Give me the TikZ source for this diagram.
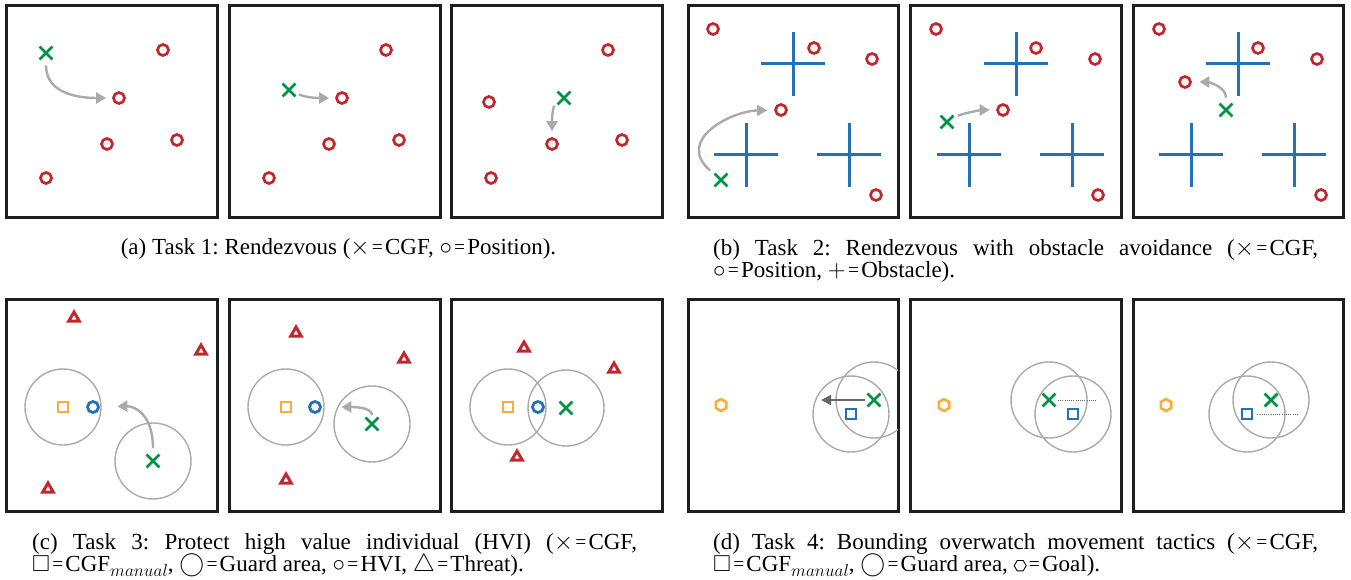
\documentclass[tikz,border=0pt]{standalone}
\usepackage{fontspec}
\setmainfont{Liberation Serif}
\usepackage{amssymb}
\usetikzlibrary{shapes.misc,shapes.geometric,arrows.meta}
\definecolor{mred}{HTML}{C1272D}
\definecolor{mgreen}{HTML}{009245}
\definecolor{mblue}{HTML}{2371B6}
\definecolor{morange}{HTML}{FAAD3A}
\definecolor{ggray}{HTML}{AAAAAA}
\definecolor{agray}{HTML}{AAAAAA}
\definecolor{dgray}{HTML}{666666}
\definecolor{framec}{HTML}{1E1E1E}
\newcommand\hexsym{\tikz[baseline={(0pt,-6pt)}]\draw[line width=0.9pt,draw=black,line join=miter] (0:6pt)--(60:6pt)--(120:6pt)--(180:6pt)--(240:6pt)--(300:6pt)--cycle;}
\newcommand\eqs{\kern2.2pt{\fontsize{19.5}{19.5}\selectfont\raisebox{0.8pt}{=}}\kern2.2pt}
\newcommand\manual{\raisebox{-4.5pt}{\fontsize{16.5}{16.5}\selectfont$manual$}}
\newcommand\obstacle[2]{\draw[obstline] ({#1-32},#2) -- ({#1+32},#2) (#1,{#2-32}) -- (#1,{#2+32});}
\tikzset{
 panelframe/.style={draw=framec, line width=3pt},
 posn/.style={circle, draw=mred, line width=2.7pt, minimum size=11pt, inner sep=0pt},
 cgf/.style={cross out, draw=mgreen, line width=2.8pt, minimum size=10pt, inner sep=0pt},
 hvi/.style={circle, draw=mblue, line width=2.8pt, minimum size=11pt, inner sep=0pt},
 manbox/.style={rectangle, draw=morange, line width=2.7pt, minimum size=10pt, inner sep=0pt},
 manboxb/.style={manbox, draw=mblue},
 threat/.style={regular polygon, regular polygon sides=3, draw=mred, line width=3pt, minimum size=12pt, inner sep=0pt},
 goalhex/.style={regular polygon, regular polygon sides=6, shape border rotate=30, draw=morange, line width=2.6pt, minimum size=12pt, inner sep=0pt},
 guardarea/.style={circle, draw=ggray, line width=1.4pt, minimum size=76pt, inner sep=0pt},
 obstline/.style={draw=mblue, line width=3pt},
 movearrow/.style={draw=agray, line width=2.4pt, -{Triangle[length=10pt,width=11pt]}},
 movearrowd/.style={draw=dgray, line width=2pt, -{Triangle[length=10pt,width=10pt]}},
 dotline/.style={draw=dgray, line width=1pt, dash pattern=on 1pt off 1.2pt},
 captxt/.style={inner sep=0pt, font=\fontsize{23}{22.5}\selectfont\frenchspacing},
}
\begin{document}
\begin{tikzpicture}[x=1pt,y=-1pt]
\useasboundingbox[fill=white] (0,0) rectangle (1351,580);
% ---------- frames ----------
\foreach \xa/\xb in {6/217,229/440,451/662,688/898,910/1121,1133/1343}{
  \draw[panelframe] (\xa,6) rectangle (\xb,217);
  \draw[panelframe] (\xa,299) rectangle (\xb,511);
}
% ---------- (a) ----------
\node[cgf] (a1x) at (46,53) {};
\node[posn] (a1p1) at (163,50) {};
\node[posn] (a1p2) at (119,98) {};
\node[posn] (a1p3) at (107,144) {};
\node[posn] (a1p4) at (177,140) {};
\node[posn] (a1p5) at (46,178) {};
\draw[movearrow, shorten <=6pt, shorten >=6pt] (a1x) .. controls +(0,40) and +(-42,0) .. (a1p2);

\node[cgf] (a2x) at (289,90) {};
\node[posn] (a2p1) at (386,50) {};
\node[posn] (a2p2) at (342,98) {};
\node[posn] (a2p3) at (329,144) {};
\node[posn] (a2p4) at (399,140) {};
\node[posn] (a2p5) at (269,178) {};
\draw[movearrow, shorten <=4pt, shorten >=6pt] (a2x) .. controls +(18,8) and +(-22,0) .. (a2p2);

\node[cgf] (a3x) at (564,98) {};
\node[posn] (a3p1) at (608,50) {};
\node[posn] (a3p2) at (489,102) {};
\node[posn] (a3p3) at (552,144) {};
\node[posn] (a3p4) at (622,140) {};
\node[posn] (a3p5) at (491,178) {};
\draw[movearrow, shorten <=4pt, shorten >=6pt] (a3x) .. controls +(-12,10) and +(0,-20) .. (a3p3);

% ---------- (b) ----------
\obstacle{793}{64}\obstacle{746}{155}\obstacle{849}{155}
\node[cgf] (b1x) at (721,180) {};
\node[posn] (b1p1) at (713,29) {};
\node[posn] (b1p2) at (814,48) {};
\node[posn] (b1p3) at (872,59) {};
\node[posn] (b1p4) at (781,110) {};
\node[posn] (b1p5) at (876,195) {};
\draw[movearrow, shorten <=6pt, shorten >=7pt] (b1x) .. controls +(-46,-40) and +(-50,1) .. (b1p4);

\obstacle{1016}{64}\obstacle{969}{155}\obstacle{1072}{155}
\node[cgf] (b2x) at (947,122) {};
\node[posn] (b2p1) at (936,29) {};
\node[posn] (b2p2) at (1036,48) {};
\node[posn] (b2p3) at (1095,59) {};
\node[posn] (b2p4) at (1003,110) {};
\node[posn] (b2p5) at (1098,195) {};
\draw[movearrow, shorten <=5pt, shorten >=6.5pt] (b2x) .. controls +(16,-9) and +(-20,0) .. (b2p4);

\obstacle{1238}{64}\obstacle{1191}{155}\obstacle{1294}{155}
\node[cgf] (b3x) at (1226,110) {};
\node[posn] (b3p1) at (1159,29) {};
\node[posn] (b3p2) at (1258,48) {};
\node[posn] (b3p3) at (1317,59) {};
\node[posn] (b3p4) at (1185,82) {};
\node[posn] (b3p5) at (1321,195) {};
\draw[movearrow, shorten <=6pt, shorten >=7.5pt] (b3x) .. controls +(0,-24) and +(22,0) .. (b3p4);

% ---------- (c) ----------
\node[guardarea] (c1g1) at (63,407) {};
\node[guardarea] (c1g2) at (153,461) {};
\node[threat] (c1t1) at (74,318) {};
\node[threat] (c1t2) at (201,351) {};
\node[threat] (c1t3) at (48,489) {};
\node[manbox] (c1m) at (63,407) {};
\node[hvi] (c1h) at (93,407) {};
\node[cgf] (c1x) at (153,461) {};
\draw[movearrow, shorten <=6.5pt, shorten >=17.5pt] (c1x) .. controls +(0,-46) and +(42,-1) .. (c1h);

\node[guardarea] (c2g1) at (286,407) {};
\node[guardarea] (c2g2) at (372,424) {};
\node[threat] (c2t1) at (296,333) {};
\node[threat] (c2t2) at (404,359) {};
\node[threat] (c2t3) at (286,480) {};
\node[manbox] (c2m) at (286,407) {};
\node[hvi] (c2h) at (315,407) {};
\node[cgf] (c2x) at (372,424) {};
\draw[movearrow, shorten <=2.5pt, shorten >=19.5pt] (c2x) .. controls +(0,-17) and +(38,0) .. (c2h);

\node[guardarea] (c3g1) at (508,407) {};
\node[guardarea] (c3g2) at (566,408) {};
\node[threat] (c3t1) at (524,348) {};
\node[threat] (c3t2) at (614,369) {};
\node[threat] (c3t3) at (517,457) {};
\node[manbox] (c3m) at (508,407) {};
\node[hvi] (c3h) at (538,407) {};
\node[cgf] (c3x) at (566,408) {};

% ---------- (d) ----------
\begin{scope}
\clip (688,299) rectangle (898,511);
\node[guardarea] (d1g1) at (851,414) {};
\node[guardarea] (d1g2) at (874,400) {};
\end{scope}
\node[goalhex] (d1goal) at (721,405) {};
\node[manboxb] (d1m) at (851,414) {};
\node[cgf] (d1x) at (874,400) {};
\coordinate (d1t) at (821,400);
\draw[movearrowd, shorten <=2.5pt] (d1x) -- (d1t);

\node[guardarea] (d2g1) at (1049,400) {};
\node[guardarea] (d2g2) at (1073,414) {};
\node[goalhex] (d2goal) at (944,405) {};
\node[manboxb] (d2m) at (1073,414) {};
\node[cgf] (d2x) at (1049,400) {};
\coordinate (d2t) at (1097,400);
\draw[dotline, shorten <=2.5pt] (d2x) -- (d2t);

\node[guardarea] (d3g1) at (1247,414) {};
\node[guardarea] (d3g2) at (1271,400) {};
\node[goalhex] (d3goal) at (1166,405) {};
\node[manboxb] (d3m) at (1247,414) {};
\node[cgf] (d3x) at (1271,400) {};
\coordinate (d3t) at (1297,414);
\draw[dotline, shorten <=4pt] (d3m) -- (d3t);

% ---------- captions ----------
\node[captxt, anchor=base] (capa) at (338.5,254) {(a) Task 1: Rendezvous ($\times$\eqs CGF, $\circ$\eqs Position).};
\node[captxt, anchor=north west, text width=605pt, align=justify] (capb) at (713,239)
 {(b) Task 2: Rendezvous with obstacle avoidance ($\times$\eqs CGF,\linebreak $\circ$\eqs Position, $+$\eqs Obstacle).};
\node[captxt, anchor=north west, text width=605pt, align=justify] (capc) at (32,533)
 {(c) Task 3: Protect high value individual (HVI) ($\times$\eqs CGF,\linebreak $\square$\eqs CGF\manual, $\bigcirc$\eqs Guard area, $\circ$\eqs HVI, $\triangle$\eqs Threat).};
\node[captxt, anchor=north west, text width=605pt, align=justify] (capd) at (713,533)
 {(d) Task 4: Bounding overwatch movement tactics ($\times$\eqs CGF,\linebreak $\square$\eqs CGF\manual, $\bigcirc$\eqs Guard area, \hexsym\eqs Goal).};
\end{tikzpicture}
\end{document}
